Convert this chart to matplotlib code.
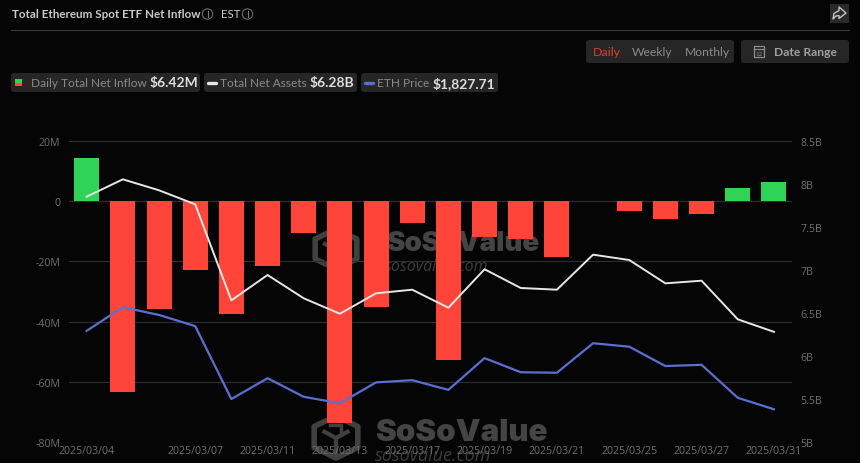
import matplotlib
matplotlib.use('Agg')
import matplotlib.pyplot as plt
from matplotlib.patches import FancyBboxPatch, Polygon, Circle, Rectangle

# values
dates = ['2025/03/04', '2025/03/05', '2025/03/06', '2025/03/07', '2025/03/10',
         '2025/03/11', '2025/03/12', '2025/03/13', '2025/03/14', '2025/03/17',
         '2025/03/18', '2025/03/19', '2025/03/20', '2025/03/21', '2025/03/24',
         '2025/03/25', '2025/03/26', '2025/03/27', '2025/03/28', '2025/03/31']
net_inflow = [14.5, -63.3, -35.9, -23.0, -37.4, -21.6, -10.4, -73.7, -35.3, -7.3,
              -52.8, -11.7, -12.4, -18.6, 0, -3.2, -5.9, -4.2, 4.5, 6.42]
net_assets = [7.855, 8.057, 7.929, 7.766, 6.647, 6.942, 6.671, 6.491, 6.729, 6.771,
              6.561, 7.009, 6.791, 6.771, 7.179, 7.117, 6.845, 6.876, 6.426, 6.28]
eth_price = [2144, 2239, 2208, 2163, 1869, 1953, 1878, 1852, 1936, 1945,
             1906, 2034, 1977, 1975, 2094, 2080, 2002, 2007, 1874, 1827.71]
left_ticks = [-80, -60, -40, -20, 0, 20]
left_labels = ['-80M', '-60M', '-40M', '-20M', '0', '20M']
right_ticks = [5, 5.5, 6, 6.5, 7, 7.5, 8, 8.5]
right_labels = ['5B', '5.5B', '6B', '6.5B', '7B', '7.5B', '8B', '8.5B']

BG = '#050505'
GRID = '#2e2e2e'
TICK = '#6f6f6f'
RED = '#ff4539'
GREEN = '#2fd457'
WHITE_LINE = '#e6e6e6'
BLUE = '#5a6fd0'
CHIP = '#262626'
UI = 'Lato'
TICK_FONT = 'Open Sans'

W, H = 860, 464
fig = plt.figure(figsize=(W / 100, H / 100), dpi=100, facecolor=BG)

# page furniture goes on a full-figure axes in pixel coordinates
bg = fig.add_axes([0, 0, 1, 1], zorder=0)
bg.set_xlim(0, W)
bg.set_ylim(H, 0)
bg.axis('off')


def chip(x, y, w, h, color=CHIP):
    bg.add_patch(FancyBboxPatch((x + 2, y + 2), w - 4, h - 4, boxstyle='round,pad=2,rounding_size=3',
                                fc=color, ec='none'))


def info_icon(x, y):
    bg.add_patch(Circle((x, y), 5.2, fc='none', ec='#6a6a6a', lw=0.8))
    bg.plot([x, x], [y - 0.8, y + 2.6], color='#7a7a7a', lw=0.8)
    bg.plot([x, x], [y - 2.9, y - 2.1], color='#7a7a7a', lw=0.8)


def watermark(cx, cy, r, tx, ty, fs, subx, suby, subfs):
    hexagon = [(cx, cy - r), (cx + r * 1.04, cy - r / 2), (cx + r * 1.04, cy + r / 2),
               (cx, cy + r), (cx - r * 1.04, cy + r / 2), (cx - r * 1.04, cy - r / 2)]
    bg.add_patch(Polygon(hexagon, closed=True, fc='none', ec='#404040', lw=4, joinstyle='round'))
    bg.plot([cx - r * 0.55, cx, cx + r * 0.55], [cy - r * 0.25, cy + r * 0.05, cy - r * 0.25],
            color='#404040', lw=3)
    bg.plot([cx, cx], [cy + r * 0.05, cy + r * 0.8], color='#404040', lw=3)
    bg.plot([cx - r * 0.3, cx + r * 0.25, cx + r * 0.25], [cy - r * 0.55, cy - r * 0.55, cy - r * 0.3],
            color='#404040', lw=2.5)
    bg.text(tx, ty, 'SoSoValue', color='#444444', fontsize=fs, fontweight='black', family='Inter',
            ha='left', va='center')
    bg.text(subx, suby, 'sosovalue.com', color='#3c3c3c', fontsize=subfs, style='italic', family='Open Sans',
            ha='left', va='center')


# header
bg.text(12, 15, 'Total Ethereum Spot ETF Net Inflow', color='#c9c9c9', fontsize=8.35, fontweight='bold',
        family=UI, ha='left', va='center')
info_icon(207.5, 15)
bg.text(221, 14.5, 'EST', color='#c9c9c9', fontsize=8.2, family=UI, ha='left', va='center')
info_icon(247.5, 15)
bg.plot([11, 849], [30.5, 30.5], color='#3a3a3a', lw=0.8)

# share button
bg.add_patch(Rectangle((830, 5), 19, 19, fc='#2a2a2a', ec='none'))
share_arrow = [(833, 20), (834, 14.5), (839, 11.5), (839, 8), (846, 14), (839, 19.5), (839, 16.5), (836, 17)]
bg.add_patch(Polygon(share_arrow, closed=True, fc='none', ec='#c4c4c4', lw=1, joinstyle='round'))

# period switch and date range
chip(586, 41, 148, 23)
bg.text(592.5, 52.5, 'Daily', color='#e33a2e', fontsize=8.9, family=UI, ha='left', va='center')
bg.text(632, 52.5, 'Weekly', color='#8c8c8c', fontsize=8.7, family=UI, ha='left', va='center')
bg.text(684.5, 52.5, 'Monthly', color='#8c8c8c', fontsize=8.7, family=UI, ha='left', va='center')
chip(741, 41, 108, 23)
bg.add_patch(Rectangle((753.5, 47), 10.5, 11, fc='none', ec='#8c8c8c', lw=0.9))
bg.plot([753.5, 764], [50, 50], color='#8c8c8c', lw=0.9)
bg.text(758.7, 54, '12', color='#8c8c8c', fontsize=4.5, family=UI, ha='center', va='center')
bg.text(773.5, 52.5, 'Date Range', color='#a0a0a0', fontsize=8.7, fontweight='bold', family=UI,
        ha='left', va='center')

# legend chips
chip(11, 74, 189, 19)
bg.add_patch(Rectangle((14.5, 80), 7, 3.5, fc=GREEN, ec='none'))
bg.add_patch(Rectangle((14.5, 83.5), 7, 3.5, fc=RED, ec='none'))
bg.text(31, 83.5, 'Daily Total Net Inflow', color='#8a8a8a', fontsize=8.6, family=UI, ha='left', va='center')
bg.text(150, 83.5, '$6.42M', color='#dddddd', fontsize=10, fontweight='bold', family=UI, ha='left', va='center')
chip(204, 74, 153, 19)
bg.plot([208, 216], [83.5, 83.5], color=WHITE_LINE, lw=2.4, solid_capstyle='round')
bg.text(220.5, 83.5, 'Total Net Assets', color='#8a8a8a', fontsize=8.6, family=UI, ha='left', va='center')
bg.text(310, 83.5, '$6.28B', color='#dddddd', fontsize=10, fontweight='bold', family=UI, ha='left', va='center')
chip(361, 74, 137, 19)
bg.plot([365, 373], [83.5, 83.5], color=BLUE, lw=2.4, solid_capstyle='round')
bg.text(377, 83.5, 'ETH Price', color='#8a8a8a', fontsize=8.6, family=UI, ha='left', va='center')
bg.text(433, 83.5, '$1,827.71', color='#dddddd', fontsize=10, fontweight='bold', family=UI, ha='left', va='center')

watermark(336, 250, 20, 386, 244, 20, 385, 267, 11.5)
watermark(336, 438, 21, 375, 433, 22.5, 375, 456, 13)

# chart
x = list(range(len(dates)))
ax_left = 68.6 / W
ax_right = 792 / W
ax_bottom = 1 - 442.7 / H
ax_height = (442.7 - 142.3) / H
ax = fig.add_axes([ax_left, ax_bottom, ax_right - ax_left, ax_height], zorder=1)
ax.patch.set_alpha(0)
colors = [GREEN if v >= 0 else RED for v in net_inflow]
ax.set_axisbelow(True)
ax.yaxis.grid(True, color=GRID, lw=0.8)
ax.bar(x, net_inflow, width=0.69, color=colors, zorder=2)
ax.set_xlim(-0.5, len(dates) - 0.5)
ax.set_ylim(-80, 20)
ax.set_yticks(left_ticks)
ax.set_yticklabels(left_labels)
ax.set_xticks(x[0::2][:1] + x[3::2])
ax.set_xticklabels([dates[0]] + dates[3::2])
ax.tick_params(axis='both', length=0, colors=TICK, labelsize=7.7)
ax.tick_params(axis='x', pad=2.5)
ax.tick_params(axis='y', pad=6)
for s in ax.spines.values():
    s.set_visible(False)

ax2 = ax.twinx()
ax2.plot(x, net_assets, color=WHITE_LINE, lw=1.4, zorder=3)
ax2.set_ylim(5, 8.5)
ax2.set_yticks(right_ticks)
ax2.set_yticklabels(right_labels)
ax2.tick_params(axis='y', length=0, colors=TICK, labelsize=7.7, pad=6)
for s in ax2.spines.values():
    s.set_visible(False)

# eth price has its own hidden scale
ax3 = ax.twinx()
ax3.plot(x, eth_price, color=BLUE, lw=1.6, zorder=3)
ax3.set_ylim(1697, 2908)
ax3.axis('off')

for label in ax.get_xticklabels() + ax.get_yticklabels() + ax2.get_yticklabels():
    label.set_family(TICK_FONT)

fig.savefig('out.png', dpi=100, facecolor=BG)
